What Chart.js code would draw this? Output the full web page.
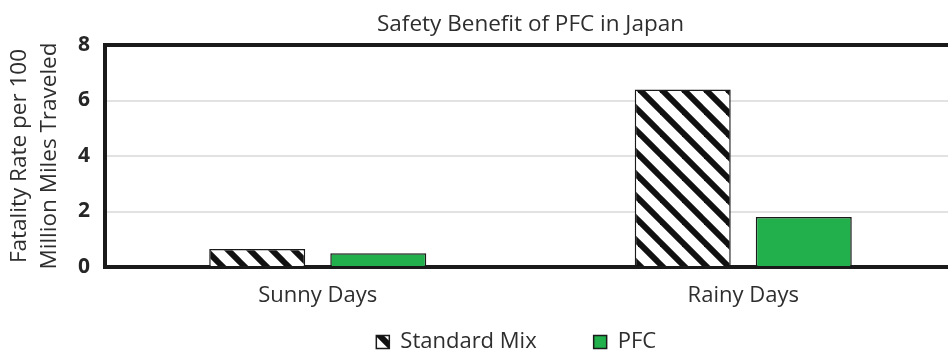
<!DOCTYPE html>
<html>
<head>
<meta charset="utf-8">
<script src="https://cdn.jsdelivr.net/npm/chart.js@4"></script>
<style>
  html, body { margin: 0; padding: 0; background: #fff; overflow: hidden; }
  #wrap { position: relative; width: 956px; height: 355px; }
</style>
</head>
<body>
<div id="wrap"><canvas id="barChart"></canvas></div>
<script>
// fatality rate per 100 million miles, by weather
const categories = ['Sunny Days', 'Rainy Days'];
const standardMix = [0.65, 6.4];
const pfc = [0.5, 1.8];
const yTicks = [0, 2, 4, 6, 8];

const FONT = '"Open Sans", sans-serif';
const TEXT = '#2e2e2e';

// hatch fill for the standard mix bars
function stripePattern() {
    var size = 22;
    var c = document.createElement('canvas');
    c.width = size;
    c.height = size;
    var g = c.getContext('2d');
    g.fillStyle = '#ffffff';
    g.fillRect(0, 0, size, size);
    g.strokeStyle = '#111111';
    g.lineWidth = 6;
    for (var k = -1; k <= 1; k++) {
        g.beginPath();
        g.moveTo(-2, k * size - 2);
        g.lineTo(size + 2, (k + 1) * size + 2);
        g.stroke();
    }
    return g.createPattern(c, 'repeat');
}

var ctx = document.getElementById('barChart').getContext('2d');

new Chart(ctx, {
    type: 'bar',
    data: {
        labels: categories,
        datasets: [
            {
                label: 'Standard Mix',
                data: standardMix,
                backgroundColor: stripePattern(),
                borderColor: '#1a1a1a',
                borderWidth: 1.5,
                borderSkipped: 'start',
                categoryPercentage: 0.569,
                barPercentage: 0.793
            },
            {
                label: 'PFC',
                data: pfc,
                backgroundColor: '#21b04b',
                borderColor: '#1a1a1a',
                borderWidth: 1.5,
                borderSkipped: 'start',
                categoryPercentage: 0.569,
                barPercentage: 0.793
            }
        ]
    },
    options: {
        responsive: true,
        maintainAspectRatio: false,
        animation: false,
        layout: { padding: { left: 0, right: 0, top: 0, bottom: -8 } },
        plugins: {
            tooltip: { enabled: false },
            title: {
                display: true,
                fullSize: false,
                text: 'Safety Benefit of PFC in Japan',
                color: TEXT,
                font: { family: FONT, size: 22.5, weight: 'normal' },
                padding: { top: 11, bottom: 7 }
            },
            legend: {
                position: 'bottom',
                fullSize: false,
                labels: {
                    color: TEXT,
                    font: { family: FONT, size: 22 },
                    boxWidth: 13,
                    boxHeight: 13,
                    padding: 17,
                    // wider gaps between the two entries
                    generateLabels: function(chart) {
                        var items = Chart.defaults.plugins.legend.labels.generateLabels(chart);
                        items[0].text += '       ';
                        items[1].text += '     ';
                        return items;
                    }
                }
            }
        },
        scales: {
            x: {
                grid: { display: false },
                border: { display: true, color: '#1a1a1a', width: 4 },
                ticks: {
                    color: TEXT,
                    font: { family: FONT, size: 22 },
                    padding: 8
                },
                afterFit: function(scale) { scale.height = 47; }
            },
            y: {
                min: 0,
                max: 8,
                afterBuildTicks: function(scale) {
                    scale.ticks = yTicks.map(function(v) { return { value: v }; });
                },
                grid: {
                    drawTicks: false,
                    color: function(c) {
                        return (c.tick && c.tick.value === 8) ? '#1a1a1a' : '#e2e2e2';
                    },
                    lineWidth: function(c) {
                        return (c.tick && c.tick.value === 8) ? 4 : 2;
                    }
                },
                border: { display: true, color: '#1a1a1a', width: 4 },
                ticks: {
                    color: '#262626',
                    font: { family: FONT, size: 21, weight: 'bold' },
                    padding: 15
                },
                title: {
                    display: true,
                    text: ['Fatality Rate per 100', 'Million Miles Traveled'],
                    color: TEXT,
                    font: { family: FONT, size: 22.5, lineHeight: 1.33 },
                    padding: { top: 5, bottom: 0 }
                },
                afterFit: function(scale) { scale.width = 105; }
            }
        }
    }
});
</script>
</body>
</html>
